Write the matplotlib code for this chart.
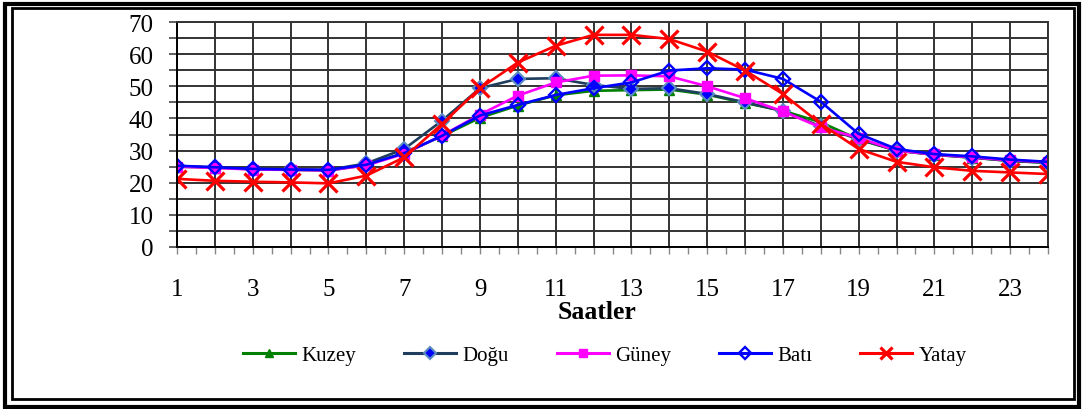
import matplotlib
matplotlib.use("Agg")
import matplotlib.pyplot as plt
from matplotlib.patches import Rectangle
from matplotlib.ticker import MultipleLocator
from matplotlib.lines import Line2D

hours = list(range(1, 25))
xtick_labels = [str(h) if h % 2 == 1 else "" for h in hours]

kuzey = [25.0, 24.7, 24.2, 24.0, 23.8, 25.5, 29.3, 34.5, 40.2, 44.0, 47.2, 48.6,
         48.8, 49.0, 47.4, 44.8, 42.4, 38.8, 33.5, 30.0, 28.7, 27.8, 26.8, 26.2]
dogu = [25.2, 24.8, 24.4, 24.2, 24.0, 26.0, 30.5, 39.3, 49.4, 52.3, 52.5, 50.4,
        49.2, 49.4, 47.6, 45.0, 42.3, 37.5, 33.5, 30.0, 28.7, 27.8, 26.8, 26.2]
guney = [25.0, 24.6, 24.1, 24.0, 23.8, 25.4, 29.0, 34.7, 41.2, 47.1, 51.2, 53.3,
         53.4, 53.1, 50.0, 46.3, 42.2, 37.2, 34.0, 30.0, 28.8, 27.9, 27.0, 26.4]
bati = [25.3, 24.8, 24.3, 24.1, 24.0, 25.6, 29.2, 34.6, 40.9, 44.2, 47.3, 49.4,
        51.2, 54.9, 55.6, 55.2, 52.3, 45.2, 35.2, 30.5, 28.9, 28.2, 27.2, 26.5]
yatay = [21.2, 20.6, 20.3, 20.1, 19.8, 22.2, 27.9, 38.3, 49.4, 57.4, 62.6, 66.0,
         66.0, 64.7, 60.8, 54.9, 47.6, 38.3, 30.5, 26.5, 24.8, 23.7, 23.2, 22.7]

series_names = ["Kuzey", "Doğu", "Güney", "Batı", "Yatay"]
xlabel = "Saatler"

plt.rcParams['font.family'] = ['Liberation Serif', 'DejaVu Serif']

W, H = 1082, 410
fig = plt.figure(figsize=(W / 100, H / 100), dpi=100)
ax = fig.add_axes([177 / W, 1 - 248 / H, (1048 - 177) / W, (248 - 23) / H])

grid_c = '#333333'
ax.set_xlim(1, 24)
ax.set_ylim(0, 70)
ax.yaxis.set_major_locator(MultipleLocator(10))
ax.yaxis.set_minor_locator(MultipleLocator(5))
ax.set_xticks(hours)
ax.set_xticklabels(xtick_labels)
ax.xaxis.set_minor_locator(MultipleLocator(0.5))
ax.grid(True, which='major', axis='both', color=grid_c, lw=1.4)
ax.grid(True, which='minor', axis='y', color=grid_c, lw=1.4)
ax.set_axisbelow(True)
for s in ['top', 'right']:
    ax.spines[s].set_color(grid_c)
    ax.spines[s].set_linewidth(1.4)
for s in ['left', 'bottom']:
    ax.spines[s].set_color('black')
    ax.spines[s].set_linewidth(1.4)

ax.tick_params(axis='y', which='both', direction='out', length=6, width=1.1,
               color='#333333', labelsize=18, pad=11)
ax.tick_params(axis='x', which='both', direction='out', length=5, width=1.0,
               color='#888888', labelsize=18, pad=17)

lw = 1.9
ax.plot(hours, kuzey, color='#008000', lw=lw, marker='^', ms=7.5,
        mfc='#008000', mec='#008000', label=series_names[0])
ax.plot(hours, dogu, color='#1F3D5C', lw=lw, marker='D', ms=7.5,
        mfc='#0000FF', mec='#5B8CC0', mew=1.5, label=series_names[1])
ax.plot(hours, guney, color='#FF00FF', lw=lw, marker='s', ms=7.5,
        mfc='#FF00FF', mec='#FF00FF', label=series_names[2])
ax.plot(hours, bati, color='#0000FF', lw=lw, marker='D', ms=7.5,
        mfc='none', mec='#0000FF', mew=1.7, label=series_names[3])
ax.plot(hours, yatay, color='#FF0000', lw=lw, marker='x', ms=13,
        mec='#FF0000', mew=2.3, label=series_names[4])

fig.text(597 / W, 1 - 313 / H, xlabel, ha='center', va='center',
         fontsize=18.5, fontweight='bold')

handles, labels = ax.get_legend_handles_labels()
leg_handles = []
for h in handles:
    lh = Line2D([], [], color=h.get_color(), lw=2.2, marker=h.get_marker(),
                ms=h.get_markersize() * (0.75 if h.get_marker() != 'x' else 0.7),
                mfc=h.get_markerfacecolor(), mec=h.get_markeredgecolor(),
                mew=h.get_markeredgewidth())
    leg_handles.append(lh)
fig.legend(leg_handles, labels, loc='center', bbox_to_anchor=(605 / W, 1 - 356 / H),
           ncol=5, frameon=False, fontsize=15, handlelength=2.5,
           handletextpad=0.3, columnspacing=2.3)

# double border
fig.patches.append(Rectangle((5 / W, 2 / H), (1079 - 5) / W, (405 - 2) / H,
                             transform=fig.transFigure, fill=False,
                             lw=3.0, ec='black'))
fig.patches.append(Rectangle((12 / W, 10.5 / H), (1073.5 - 12) / W, (401.5 - 10.5) / H,
                             transform=fig.transFigure, fill=False,
                             lw=2.0, ec='black'))

fig.savefig('out.png', dpi=100)
